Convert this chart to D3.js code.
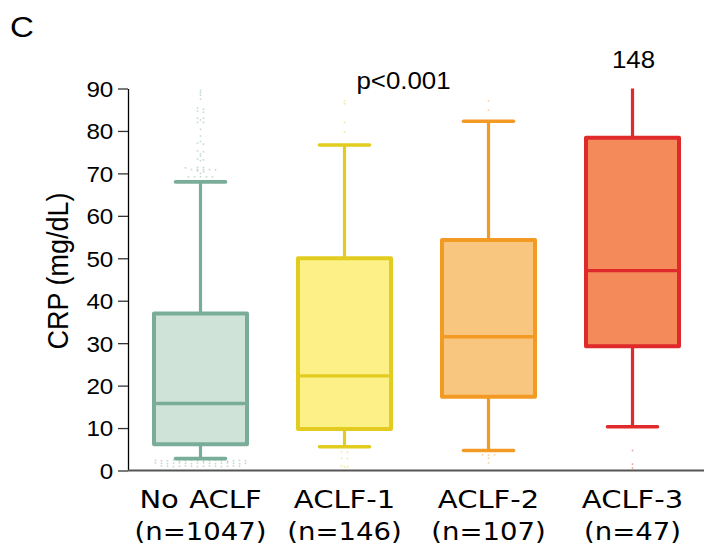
<!DOCTYPE html>
<html>
<head>
<meta charset="utf-8">
<script src="https://cdn.jsdelivr.net/npm/d3@7"></script>
<style>
  html, body { margin: 0; padding: 0; background: #fff; }
  svg { display: block; }
</style>
</head>
<body>
<svg id="chart" width="709" height="551"></svg>
<script>
// ---------------- data ----------------
const categories = ["No ACLF", "ACLF-1", "ACLF-2", "ACLF-3"];
const counts = ["(n=1047)", "(n=146)", "(n=107)", "(n=47)"];
const whiskerLow = [2.8, 5.6, 4.7, 10.3];
const q1 = [6.2, 9.8, 17.4, 29.3];
const median = [15.8, 22.3, 31.5, 47.1];
const q3 = [37.0, 50.0, 54.3, 78.4];
const whiskerHigh = [68.0, 76.7, 82.3, 148];
const outliers = [
  [89.5, 89.0, 88.4, 87.5, 85.4, 85.1, 84.7, 84.4, 83.0, 83.0, 82.6, 82.0, 82.0, 80.4, 78.8,
   77.5, 77.1, 76.9, 75.3, 75.1, 74.6, 74.1, 73.4, 73.2, 73.0, 71.4, 71.4, 71.3, 70.9, 70.9, 70.9, 70.9,
   70.8, 70.6, 70.4, 70.0, 69.2, 69.2, 69.2, 69.2, 69.2,
   2.4, 2.3, 2.3, 2.4, 2.2, 2.3, 2.4, 2.3, 2.2, 2.3, 2.4, 2.3, 2.2, 2.3, 2.4, 2.3,
   1.8, 1.7, 1.6, 1.7, 1.8, 1.7, 1.6, 1.7, 1.8, 1.7, 1.6, 1.7, 1.8, 1.7, 1.6, 1.7,
   1.1, 1.0, 0.9, 1.0, 1.1, 1.0, 0.9, 1.0, 1.1, 1.0, 0.9, 1.0, 1.1, 1.0],
  [87.1, 86.4, 82.0, 79.8, 4.4, 4.3, 2.9, 2.8, 1.1, 0.9, 0.8],
  [87.1, 84.9, 3.7, 3.6, 3.7, 2.9, 1.8],
  [4.7, 1.5, 0.6]
];
const yTicks = [0, 10, 20, 30, 40, 50, 60, 70, 80, 90];
const strokeColors = ["#7aad99", "#e3cc20", "#f39a24", "#e0292b"];
const fillColors = ["#cfe3d9", "#fdf087", "#f9c680", "#f4895a"];
const pLabel = "p<0.001";

// ---------------- layout ----------------
const svg = d3.select("#chart");
const SX = 1.1; // horizontal text stretch seen in the reference
const xAxisLeft = 128, xAxisRight = 704;
const y = d3.scaleLinear().domain([0, 90]).range([470.5, 88.5]).clamp(true);
const x = d3.scalePoint().domain(categories).range([xAxisLeft, xAxisRight]).padding(0.5);
const cx = c => x(c) + 0.5;
const halfBox = 46.5;
const halfCap = 25;
const sans = "'Liberation Sans', Arial, sans-serif";
const verd = "'DejaVu Sans', Verdana, sans-serif";

// panel label
svg.append("text")
  .attr("transform", `translate(10,37) scale(${SX},1)`)
  .attr("font-family", sans)
  .attr("font-size", 30).attr("fill", "#000").text("C");

// y axis
const yAxis = d3.axisLeft(y).tickValues(yTicks).tickSize(10).tickSizeOuter(0);
const gy = svg.append("g").attr("transform", `translate(${xAxisLeft},0)`).call(yAxis);
gy.select(".domain").attr("stroke", "#000").attr("stroke-width", 1.3);
gy.selectAll(".tick line").attr("stroke", "#333").attr("stroke-width", 1.3);
gy.selectAll(".tick text")
  .attr("x", 0).attr("dy", "0.36em")
  .attr("transform", `translate(-14.7,0) scale(${SX},1)`)
  .attr("font-family", sans)
  .attr("font-size", 22).attr("fill", "#000");

// y label
svg.append("text")
  .attr("transform", `translate(68,271) scale(${SX},1) rotate(-90)`)
  .attr("text-anchor", "middle")
  .attr("font-family", sans)
  .attr("font-size", 27).attr("fill", "#000")
  .text("CRP (mg/dL)");

// x axis line
svg.append("line")
  .attr("x1", xAxisLeft).attr("x2", xAxisRight)
  .attr("y1", y(0)).attr("y2", y(0))
  .attr("stroke", "#555").attr("stroke-width", 2);

// outlier dots (deterministic dot-plot layout: bin values, spread within bin)
categories.forEach((c, i) => {
  const vals = outliers[i];
  const bins = d3.group(vals.map((v, k) => ({ v, k })), d => Math.round(y(d.v) / 2.6));
  const pts = [];
  bins.forEach(arr => {
    arr.forEach((d, j) => {
      const n = arr.length;
      const off = (j - (n - 1) / 2) * 6;
      pts.push({ v: d.v, off });
    });
  });
  svg.append("g").selectAll("rect").data(pts).join("rect")
    .attr("x", d => cx(c) + d.off - 0.8)
    .attr("y", d => y(d.v) - 0.8)
    .attr("width", 1.6).attr("height", 1.6)
    .attr("fill", strokeColors[i]).attr("opacity", 0.45);
});

// boxes
categories.forEach((c, i) => {
  const g = svg.append("g");
  const col = strokeColors[i];
  const xc = cx(c);
  g.append("line").attr("x1", xc).attr("x2", xc)
    .attr("y1", y(q3[i])).attr("y2", y(whiskerHigh[i]))
    .attr("stroke", col).attr("stroke-width", 3.2);
  g.append("line").attr("x1", xc).attr("x2", xc)
    .attr("y1", y(q1[i])).attr("y2", y(whiskerLow[i]))
    .attr("stroke", col).attr("stroke-width", 3.2);
  [whiskerLow[i], whiskerHigh[i]].filter(v => v <= 90).forEach(v => {
    g.append("line").attr("x1", xc - halfCap).attr("x2", xc + halfCap)
      .attr("y1", y(v)).attr("y2", y(v))
      .attr("stroke", col).attr("stroke-width", 3.6).attr("stroke-linecap", "round");
  });
  g.append("rect")
    .attr("x", xc - halfBox).attr("width", 2 * halfBox)
    .attr("y", y(q3[i])).attr("height", y(q1[i]) - y(q3[i]))
    .attr("fill", fillColors[i]).attr("stroke", col).attr("stroke-width", 4)
    .attr("stroke-linejoin", "round");
  g.append("line").attr("x1", xc - halfBox + 3).attr("x2", xc + halfBox - 3)
    .attr("y1", y(median[i])).attr("y2", y(median[i]))
    .attr("stroke", col).attr("stroke-width", 3.4).attr("stroke-linecap", "round");
});

// max value label for clipped whisker
categories.forEach((c, i) => {
  if (whiskerHigh[i] > 90) {
    svg.append("text")
      .attr("transform", `translate(${cx(c) + 1},68.3) scale(${SX},1)`)
      .attr("text-anchor", "middle")
      .attr("font-family", sans)
      .attr("font-size", 23.5).attr("fill", "#000")
      .text(String(whiskerHigh[i]));
  }
});

// p-value annotation
{
  const xa = (cx(categories[1]) + cx(categories[2])) / 2 - 13;
  svg.append("text")
    .attr("transform", `translate(${xa},${y(90) + 0.5}) scale(${SX},1)`)
    .attr("text-anchor", "middle")
    .attr("font-family", sans)
    .attr("font-size", 23.5).attr("fill", "#000")
    .text(pLabel);
}

// x category labels
categories.forEach((c, i) => {
  const t = svg.append("g").attr("transform", `translate(${cx(c)},0)`);
  t.append("text")
    .attr("transform", `translate(0,508.3) scale(1.16,1)`)
    .attr("text-anchor", "middle")
    .attr("word-spacing", 1)
    .attr("font-family", verd)
    .attr("font-size", 25).attr("fill", "#000").text(c);
  t.append("text")
    .attr("transform", `translate(0,540) scale(${SX},1)`)
    .attr("text-anchor", "middle")
    .attr("font-family", verd)
    .attr("font-size", 25).attr("fill", "#000").text(counts[i]);
});
</script>
</body>
</html>
